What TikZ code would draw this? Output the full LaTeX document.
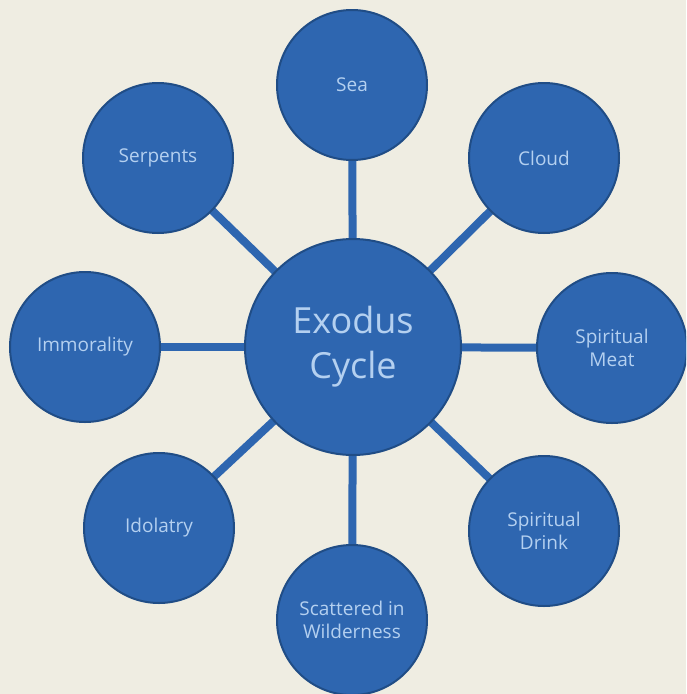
\documentclass[tikz,border=0pt]{standalone}
\usepackage{fontspec}
\setmainfont{Open Sans}
\definecolor{bgcol}{HTML}{EFEDE2}
\definecolor{nodefill}{HTML}{2E66B0}
\definecolor{nodeedge}{HTML}{204D86}
\definecolor{txtcol}{HTML}{B4D0F0}
\pgfdeclarelayer{bglayer}
\pgfdeclarelayer{edgelayer}
\pgfsetlayers{bglayer,edgelayer,main}
\begin{document}
\begin{tikzpicture}[x=1pt,y=-1pt,
  spoke/.style={circle,fill=nodefill,draw=nodeedge,line width=2pt,inner sep=0pt,
    minimum size=150pt,text=txtcol,align=center,font=\fontsize{19}{23}\selectfont},
  hubnode/.style={spoke,minimum size=216pt,font=\fontsize{36}{45}\selectfont},
  link/.style={draw=nodefill,line width=8pt}]
\begin{pgfonlayer}{bglayer}
\fill[bgcol] (0,0) rectangle (686,694);
\end{pgfonlayer}
\useasboundingbox (0,0) rectangle (686,694);
\clip (0,0) rectangle (686,694);
\node[hubnode] (hub) at (353,347) {Exodus\\Cycle};
\node[spoke] (sea) at (352,85) {Sea};
\node[spoke] (cloud) at (544,158) {Cloud};
\node[spoke] (meat) at (612,348) {Spiritual\\Meat};
\node[spoke] (drink) at (544,531) {Spiritual\\Drink};
\node[spoke] (scat) at (352,620) {Scattered in\\Wilderness};
\node[spoke] (idol) at (159,528) {Idolatry};
\node[spoke] (immo) at (85,347) {Immorality};
\node[spoke] (serp) at (158,158) {Serpents};
\begin{pgfonlayer}{edgelayer}
\foreach \n in {sea,cloud,meat,drink,scat,idol,immo,serp}
  \path[link] (hub.center) -- (\n.center);
\end{pgfonlayer}
\end{tikzpicture}
\end{document}
